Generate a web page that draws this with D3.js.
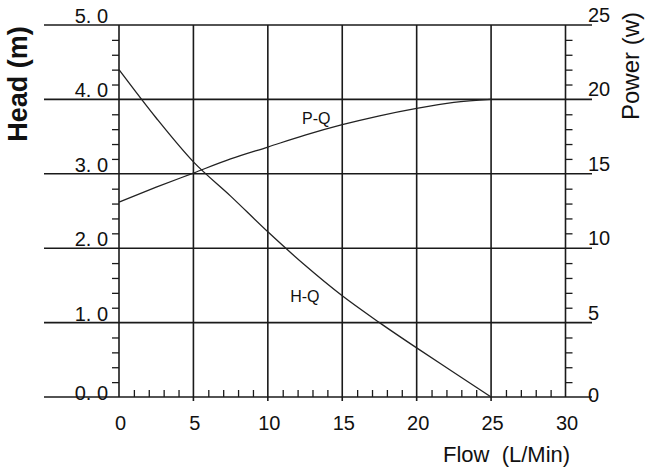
<!DOCTYPE html>
<html>
<head>
<meta charset="utf-8">
<script src="https://cdn.jsdelivr.net/npm/d3@7/dist/d3.min.js"></script>
<style>
  body { margin: 0; background: #fff; }
  text { font-family: "Liberation Sans", Arial, sans-serif; fill: #111; }
</style>
</head>
<body>
<div id="chart"></div>
<script>
const width = 650;
const height = 470;

const flow = [0, 2.5, 5, 7.5, 10, 12.5, 15, 17.5, 20, 22.5, 25];
const headValues = [4.40, 3.75, 3.16, 2.70, 2.22, 1.77, 1.36, 1.00, 0.66, 0.33, 0];
const powerValues = [13.1, 14.1, 15.05, 16.0, 16.8, 17.6, 18.3, 18.9, 19.4, 19.8, 20.0];

const flowTicks = [0, 5, 10, 15, 20, 25, 30];
const headTicks = [0, 1, 2, 3, 4, 5];
const powerTicks = [0, 5, 10, 15, 20, 25];

const plotLeft = 119;
const plotRight = 565.5;
const plotTop = 25;
const plotBottom = 397;

const x = d3.scaleLinear().domain([0, 30]).range([plotLeft, plotRight]);
const yHead = d3.scaleLinear().domain([0, 5]).range([plotBottom, plotTop]);
const yPower = d3.scaleLinear().domain([0, 25]).range([plotBottom, plotTop]);

const svg = d3.select('#chart')
  .append('svg')
    .attr('width', width)
    .attr('height', height);

const ink = '#1a1a1a';

// horizontal grid lines (long, past both axes)
svg.append('g')
  .selectAll('line')
  .data(headTicks)
  .join('line')
    .attr('x1', 44)
    .attr('x2', 592)
    .attr('y1', d => yHead(d))
    .attr('y2', d => yHead(d))
    .attr('stroke', ink)
    .attr('stroke-width', 1.6);

// vertical grid lines
svg.append('g')
  .selectAll('line')
  .data(flowTicks)
  .join('line')
    .attr('x1', d => x(d))
    .attr('x2', d => x(d))
    .attr('y1', plotTop)
    .attr('y2', d => (d === 0 || d === 30) ? plotBottom : plotBottom + 4)
    .attr('stroke', ink)
    .attr('stroke-width', 1.6);

// minor ticks
const minorAxis = (axis, tr) => svg.append('g')
  .attr('transform', tr)
  .call(axis.tickSize(7).tickFormat(''))
  .call(g => g.select('.domain').remove())
  .call(g => g.selectAll('line').attr('stroke', ink).attr('stroke-width', 1.3));

minorAxis(d3.axisLeft(yHead).tickValues(d3.range(0, 5.01, 0.2).filter(v => Math.abs(v - Math.round(v)) > 0.01)),
  `translate(${plotLeft},0)`);
minorAxis(d3.axisRight(yPower).tickValues(d3.range(1, 25).filter(v => v % 5 !== 0)),
  `translate(${plotRight},0)`);
minorAxis(d3.axisTop(x).tickValues(d3.range(1, 30).filter(v => v % 5 !== 0)),
  `translate(0,${plotBottom})`);

// tick labels
svg.append('g')
  .selectAll('text')
  .data(headTicks)
  .join('text')
    .attr('x', 108)
    .attr('y', d => yHead(d) + (d === 0 ? 3 : -2))
    .attr('text-anchor', 'end')
    .attr('font-size', 20)
    .text(d => d3.format('.1f')(d).replace('.', '. '));

svg.append('g')
  .selectAll('text')
  .data(powerTicks)
  .join('text')
    .attr('x', 588)
    .attr('y', d => yPower(d) + (d === 0 ? 5 : -3))
    .attr('font-size', 20)
    .text(d => d);

svg.append('g')
  .selectAll('text')
  .data(flowTicks)
  .join('text')
    .attr('x', d => x(d) + 1.5)
    .attr('y', 430)
    .attr('text-anchor', 'middle')
    .attr('font-size', 20)
    .text(d => d);

// curves
const headLine = d3.line()
  .x((d, i) => x(flow[i]))
  .y(d => yHead(d))
  .curve(d3.curveMonotoneX);

const powerLine = d3.line()
  .x((d, i) => x(flow[i]))
  .y(d => yPower(d))
  .curve(d3.curveMonotoneX);

svg.append('path')
  .attr('d', headLine(headValues))
  .attr('fill', 'none')
  .attr('stroke', '#222')
  .attr('stroke-width', 1.3);

svg.append('path')
  .attr('d', powerLine(powerValues))
  .attr('fill', 'none')
  .attr('stroke', '#222')
  .attr('stroke-width', 1.3);

// curve labels
svg.append('text')
  .attr('x', x(12.3))
  .attr('y', yHead(3.67))
  .attr('font-size', 16)
  .text('P-Q');

svg.append('text')
  .attr('x', x(11.5))
  .attr('y', yHead(1.28))
  .attr('font-size', 16)
  .text('H-Q');

// axis titles
svg.append('text')
  .attr('transform', 'translate(27,84) rotate(-90)')
  .attr('text-anchor', 'middle')
  .attr('font-size', 27)
  .attr('font-weight', 'bold')
  .text('Head (m)');

svg.append('text')
  .attr('transform', 'translate(639,66) rotate(-90)')
  .attr('text-anchor', 'middle')
  .attr('font-size', 24)
  .text('Power (w)');

svg.append('text')
  .attr('x', 443)
  .attr('y', 462)
  .attr('font-size', 22)
  .style('white-space', 'pre')
  .text('Flow  (L/Min)');
</script>
</body>
</html>
